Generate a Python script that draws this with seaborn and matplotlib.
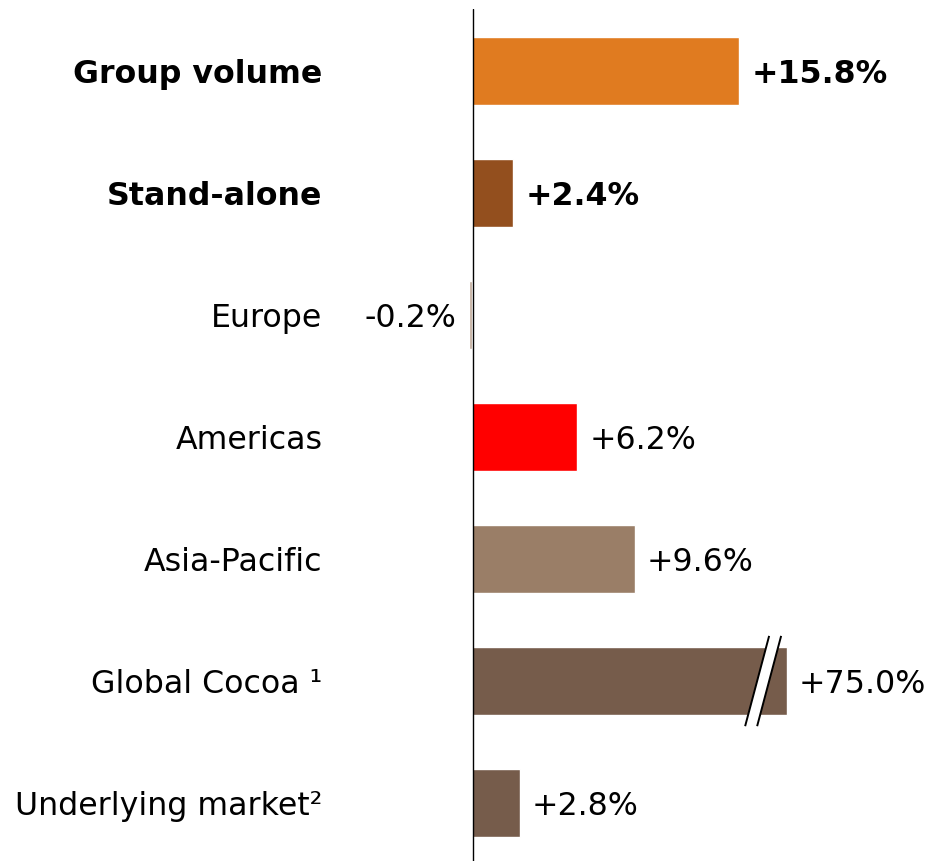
import matplotlib
matplotlib.use("Agg")
import matplotlib.pyplot as plt
from matplotlib.patches import Polygon
import seaborn as sns
import pandas as pd

# Volume growth by segment (%)
categories = ["Group volume", "Stand-alone", "Europe", "Americas",
              "Asia-Pacific", "Global Cocoa \u00b9", "Underlying market\u00b2"]
changes = [15.8, 2.4, -0.2, 6.2, 9.6, 75.0, 2.8]
value_labels = ["+15.8%", "+2.4%", "-0.2%", "+6.2%", "+9.6%", "+75.0%", "+2.8%"]
bold_rows = [True, True, False, False, False, False, False]
bar_colors = ["#E07B20", "#934F1E", "#BFA898", "#FF0000",
              "#9A7E67", "#765C4B", "#765C4B"]

# Bars longer than this are cut with a break mark
axis_cap = 18.6

sns.set_theme(style="white")
plt.rcParams["font.family"] = ["DejaVu Sans"]

df = pd.DataFrame({
    "segment": categories,
    "change": changes,
    "shown": [min(v, axis_cap) for v in changes],
})

fig = plt.figure(figsize=(9.33, 8.62), dpi=100)
ax = fig.add_axes([0, 0, 1, 852 / 862])

sns.barplot(data=df, x="shown", y="segment", hue="segment",
            palette=bar_colors, orient="h", width=0.557,
            legend=False, ax=ax, saturation=1)

ax.set_xlim(-27.95, 27.25)
ax.set_ylim(6.475, -0.508)
for s in ax.spines.values():
    s.set_visible(False)
ax.set_xticks([])
ax.set_yticks([])
ax.set_xlabel("")
ax.set_ylabel("")

ax.axvline(0.05, color="black", lw=1.0, zorder=10)

fs = 22.8
for i, (cat, v, lab, b) in enumerate(zip(categories, df["shown"], value_labels, bold_rows)):
    weight = "bold" if b else "normal"
    ax.text(-8.88, i + 0.02, cat, ha="right", va="center", fontsize=fs,
            fontweight=weight, color="black")
    if v >= 0:
        ax.text(v + 0.72, i + 0.02, lab, ha="left", va="center", fontsize=fs,
                fontweight=weight, color="black")
    else:
        ax.text(v - 0.72, i + 0.02, lab, ha="right", va="center", fontsize=fs,
                fontweight=weight, color="black")

# Break mark on the truncated bar
row = categories.index("Global Cocoa \u00b9")
bx, gap, dx, dy = 17.2, 0.71, 1.42, 0.74
x1 = bx - gap / 2
x2 = bx + gap / 2
y_top, y_bot = row - dy / 2, row + dy / 2
poly = Polygon([(x1 - dx / 2, y_bot), (x1 + dx / 2, y_top),
                (x2 + dx / 2, y_top), (x2 - dx / 2, y_bot)],
               closed=True, facecolor="white", edgecolor="none", zorder=5)
ax.add_patch(poly)
for xc in (x1, x2):
    ax.plot([xc - dx / 2, xc + dx / 2], [y_bot, y_top], color="black",
            lw=1.4, zorder=6, solid_capstyle="butt")

fig.savefig("out.png", dpi=100)
